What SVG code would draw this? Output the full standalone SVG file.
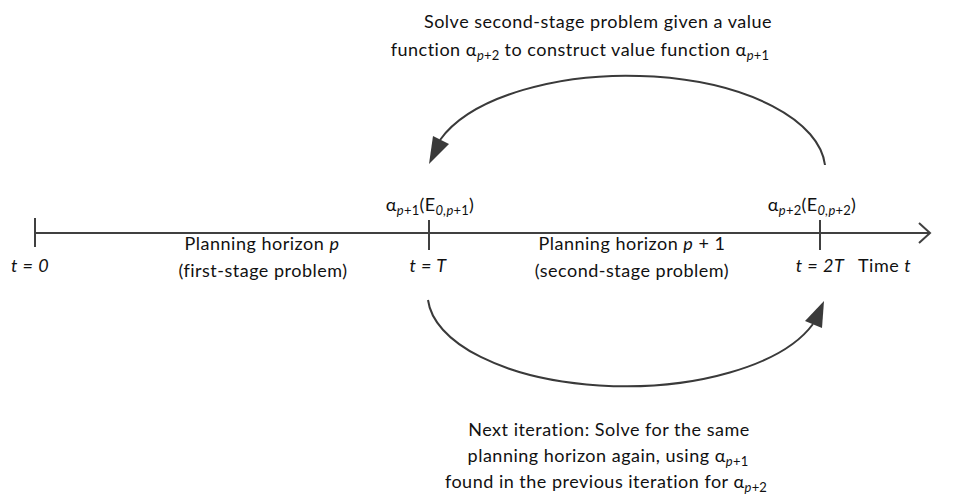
<svg xmlns="http://www.w3.org/2000/svg" width="962" height="498" viewBox="0 0 962 498">
  <style>
    text { font-family: "Lato", "Open Sans", "Liberation Sans", sans-serif; font-size: 18px; letter-spacing: 0.5px; fill: #111; }
    .mid { text-anchor: middle; }
    .it { font-style: italic; }
    .sub { font-size: 13px; letter-spacing: 0.2px; }
    .axis { stroke: #404040; stroke-width: 2; fill: none; }
    .arc { stroke: #3a3a3a; stroke-width: 2; fill: none; }
    .head { fill: #3a3a3a; stroke: none; }
  </style>

  <rect width="962" height="498" fill="#ffffff"/>

  <!-- time axis with ticks -->
  <g id="axis">
    <line class="axis" x1="35" y1="233" x2="929" y2="233"/>
    <polyline class="axis" points="919,223 930,233 919,243"/>
    <line class="axis" x1="35" y1="218" x2="35" y2="247"/>
    <line class="axis" x1="429" y1="220" x2="429" y2="250"/>
    <line class="axis" x1="820" y1="220" x2="820" y2="250"/>
  </g>

  <!-- connectors: backward and forward loops -->
  <g id="connectors">
    <path class="arc" d="M825,165 A198,95 0 0 0 440,140"/>
    <polygon class="head" points="429,164 449,144 433,136"/>
    <path class="arc" d="M428,300 A198,92 0 0 0 813,324"/>
    <polygon class="head" points="824,301 822,328 805,321"/>
  </g>

  <g id="label-top">
    <text class="mid" x="598" y="28">Solve second-stage problem given a value</text>
    <text class="mid" x="580" y="56">function α<tspan class="sub it" dy="4">p</tspan><tspan class="sub">+2</tspan><tspan dy="-4"> to construct value function α</tspan><tspan class="sub it" dy="4">p</tspan><tspan class="sub">+1</tspan></text>
  </g>

  <g id="node-T">
    <text class="mid" x="430" y="211">α<tspan class="sub it" dy="4">p</tspan><tspan class="sub">+1</tspan><tspan dy="-4">(E</tspan><tspan class="sub it" dy="4">0,p</tspan><tspan class="sub">+1</tspan><tspan dy="-4">)</tspan></text>
    <text class="mid it" x="428" y="272">t = T</text>
  </g>

  <g id="node-2T">
    <text class="mid" x="812" y="211">α<tspan class="sub it" dy="4">p</tspan><tspan class="sub">+2</tspan><tspan dy="-4">(E</tspan><tspan class="sub it" dy="4">0,p</tspan><tspan class="sub">+2</tspan><tspan dy="-4">)</tspan></text>
    <text class="mid it" x="820" y="272">t = 2T</text>
  </g>

  <g id="node-0">
    <text class="mid it" x="30" y="272">t = 0</text>
  </g>

  <g id="horizon-p">
    <text class="mid" x="262" y="250">Planning horizon <tspan class="it">p</tspan></text>
    <text class="mid" x="263" y="277">(first-stage problem)</text>
  </g>

  <g id="horizon-p1">
    <text class="mid" x="632" y="250">Planning horizon <tspan class="it">p</tspan> + 1</text>
    <text class="mid" x="632" y="277">(second-stage problem)</text>
  </g>

  <g id="time-label">
    <text x="858" y="272">Time <tspan class="it">t</tspan></text>
  </g>

  <g id="label-bottom">
    <text class="mid" x="609" y="436">Next iteration: Solve for the same</text>
    <text class="mid" x="608" y="462">planning horizon again, using α<tspan class="sub it" dy="4">p</tspan><tspan class="sub">+1</tspan></text>
    <text class="mid" x="606" y="488">found in the previous iteration for α<tspan class="sub it" dy="4">p</tspan><tspan class="sub">+2</tspan></text>
  </g>
</svg>
